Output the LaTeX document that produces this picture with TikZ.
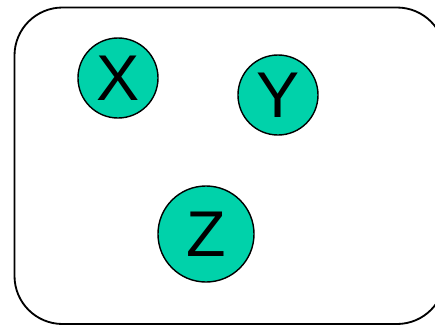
\documentclass[tikz,border=0pt]{standalone}
\usepackage{fontspec}
\setmainfont{Liberation Sans}
\usetikzlibrary{positioning}
\definecolor{Frame}{HTML}{000000}
\definecolor{Aqua}{HTML}{00D2AA}
\tikzset{var/.style={circle,draw=black,fill=Aqua,line width=1pt,inner sep=0pt,font=\fontsize{46}{46}\selectfont},frame/.style={draw=Frame,line width=1.3pt,rounded corners=1.2cm}}
\begin{document}
\begin{tikzpicture}[x=0.025cm,y=-0.025cm]
      \useasboundingbox(0,0)rectangle(435,325);
      \clip(0,0)rectangle(435,325);
      \draw[frame](14.5,7.5)rectangle(445,324);
      \node[var,minimum size=2cm](x)at(118,78){X};
      \node[var,minimum size=2cm](y)at(278,95){Y};
      \node[var,minimum size=2.4cm](z)at(206,234){Z};
    \end{tikzpicture}
\end{document}
